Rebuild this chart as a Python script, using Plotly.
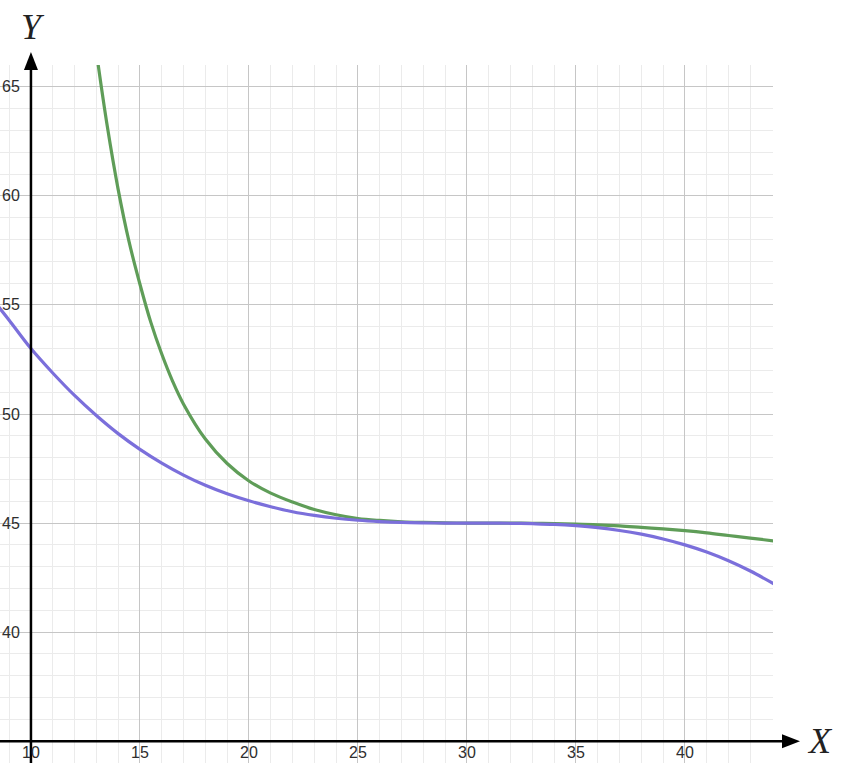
import plotly.graph_objects as go

# curve readings (x, y)
green_x = [13.0, 13.5, 14, 14.5, 15, 15.5, 16, 16.5, 17, 18, 19, 20, 21, 22, 23, 24, 25, 26, 27, 28, 29,
           30, 31, 32, 33, 34, 35, 36, 37, 38, 39, 40, 41, 42, 43, 44.1]
green_y = [66.6, 63.2, 60.3, 57.9, 55.95, 54.2, 52.75, 51.5, 50.45, 48.85, 47.73, 46.93, 46.37, 45.96, 45.62,
           45.38, 45.21, 45.12, 45.06, 45.03, 45.01, 45.0, 45.0, 45.0, 44.99, 44.97, 44.95, 44.92, 44.87,
           44.8, 44.73, 44.65, 44.55, 44.43, 44.31, 44.18]

purple_x = [8.5, 9, 10, 11, 12, 13, 14, 15, 16, 17, 18, 19, 20, 21, 22, 23, 24, 25, 26, 27, 28, 29,
            30, 31, 32, 33, 34, 35, 36, 37, 38, 39, 40, 41, 42, 43, 44.1]
purple_y = [54.93, 54.3, 53.0, 51.88, 50.85, 49.93, 49.1, 48.38, 47.75, 47.2, 46.73, 46.34, 46.02, 45.75,
            45.52, 45.35, 45.22, 45.13, 45.07, 45.03, 45.01, 45.0, 45.0, 45.0, 44.99, 44.97, 44.94, 44.88,
            44.79, 44.66, 44.49, 44.27, 44.0, 43.67, 43.27, 42.8, 42.2]

x_ticks = [10, 15, 20, 25, 30, 35, 40]
y_ticks = [40, 45, 50, 55, 60, 65]

X_RANGE = [8.58, 44.04]
Y_RANGE = [34, 66]
AXIS_X = 10   # where the vertical axis crosses
AXIS_Y = 35   # where the horizontal axis crosses

W, H = 844, 763
ML, MR, MT, MB = 0, 71, 65, 0
PW, PH = W - ML - MR, H - MT - MB


def xp(v):
    return (v - X_RANGE[0]) / (X_RANGE[1] - X_RANGE[0])


def yp(v):
    return (v - Y_RANGE[0]) / (Y_RANGE[1] - Y_RANGE[0])


fig = go.Figure()
fig.add_trace(go.Scatter(x=green_x, y=green_y, mode="lines", line=dict(color="#5f9d58", width=3.2, shape="spline"),
                         hoverinfo="skip"))
fig.add_trace(go.Scatter(x=purple_x, y=purple_y, mode="lines", line=dict(color="#7b6fdb", width=3.2, shape="spline"),
                         hoverinfo="skip"))

ax_x, ax_y = xp(AXIS_X), yp(AXIS_Y)
# arrow sizes in pixels -> paper
vtip, vbase, vhalf = 13 / PH, 13 / PH - 18 / PH, 7 / PW
htip, hbase, hhalf = 27 / PW, 27 / PW - 18 / PW, 7 / PH

shapes = [
    # vertical axis
    dict(type="line", xref="paper", yref="paper", x0=ax_x, x1=ax_x, y0=0, y1=1 + vbase + 2 / PH,
         line=dict(color="black", width=2.5)),
    dict(type="path", xref="paper", yref="paper", fillcolor="black", line=dict(width=0),
         path=f"M {ax_x - vhalf} {1 + vbase} L {ax_x + vhalf} {1 + vbase} L {ax_x} {1 + vtip} Z"),
    # horizontal axis
    dict(type="line", xref="paper", yref="paper", x0=0, x1=1 + hbase + 2 / PW, y0=ax_y, y1=ax_y,
         line=dict(color="black", width=2.5)),
    dict(type="path", xref="paper", yref="paper", fillcolor="black", line=dict(width=0),
         path=f"M {1 + hbase} {ax_y - hhalf} L {1 + hbase} {ax_y + hhalf} L {1 + htip} {ax_y} Z"),
]

tick_font = dict(family="Liberation Sans, Arial, sans-serif", size=16, color="#2e2e2e")
annotations = []
for t in y_ticks:
    annotations.append(dict(x=22 / PW, y=t, xref="paper", yref="y", text=str(t), showarrow=False,
                            xanchor="right", yanchor="middle", font=tick_font))
for t in x_ticks:
    annotations.append(dict(x=t, y=ax_y - 11 / PH, xref="x", yref="paper", text=str(t), showarrow=False,
                            xanchor="center", yanchor="middle", font=tick_font))

label_font = dict(family="Liberation Serif, Times New Roman, serif", size=36, color="#222222", style="italic")
annotations.append(dict(x=ax_x + 2 / PW, y=1 + 38 / PH, xref="paper", yref="paper", text="Y", showarrow=False,
                        xanchor="center", yanchor="middle", font=label_font))
annotations.append(dict(x=1 + 47 / PW, y=ax_y, xref="paper", yref="paper", text="X", showarrow=False,
                        xanchor="center", yanchor="middle", font=label_font))

grid_axis = dict(showgrid=True, gridcolor="#c6c6c6", gridwidth=1.2, dtick=5, tick0=0,
                 zeroline=False, showline=False, showticklabels=False, ticks="",
                 minor=dict(dtick=1, tick0=0, showgrid=True, gridcolor="#ebebeb", gridwidth=1, ticks=""))

fig.update_layout(
    width=W, height=H,
    margin=dict(l=ML, r=MR, t=MT, b=MB, pad=0),
    plot_bgcolor="white", paper_bgcolor="white",
    showlegend=False,
    xaxis=dict(range=X_RANGE, **grid_axis),
    yaxis=dict(range=Y_RANGE, **grid_axis),
    shapes=shapes,
    annotations=annotations,
)

# page has a default body margin; drop it so the figure sits at the window's corner
fig.write_html("out.html", config={"displayModeBar": False},
               post_script="document.body.style.margin='0';")
